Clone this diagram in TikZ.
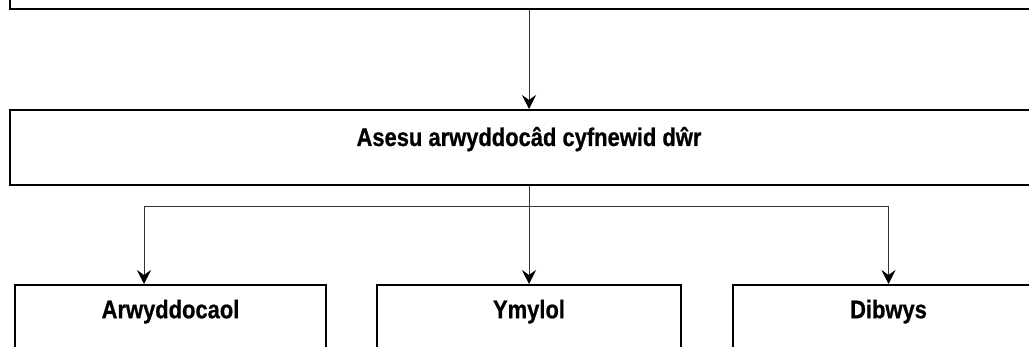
\documentclass[tikz,border=0pt]{standalone}
\usepackage{fontspec}
\setmainfont{Liberation Sans}[BoldFeatures={FakeBold=0.8}]
\usetikzlibrary{positioning, arrows.meta}
\newcommand{\narrowtxt}[1]{\scalebox{0.86}[1]{#1}}

\begin{document}
\begin{tikzpicture}[
    x=1pt, y=-1pt,
    box/.style={rectangle, draw, line width=2pt, minimum height=75pt, text height=17.5pt, text depth=20.5pt, font=\fontsize{25.5}{30}\selectfont\bfseries},
    leaf/.style={box, minimum width=311pt, text depth=26pt},
    conn/.style={-{Stealth[length=14pt, width=14pt, inset=5pt, color=black]}, line width=0.9pt, draw=black!80}
]
    \useasboundingbox (0,0) rectangle (1029,347);

    % Boxes
    \node[box, minimum width=1038pt, minimum height=60pt] (top) at (529,-21) {};
    \node[box, minimum width=1038pt, below=99pt of top] (asesu) {\narrowtxt{Asesu arwyddocâd cyfnewid dŵr}};
    \node[leaf, minimum width=304pt, below=98pt of asesu] (ymylol) {\narrowtxt{Ymylol}};
    \node[leaf, left=49pt of ymylol] (arw) {\narrowtxt{Arwyddocaol}};
    \node[leaf, right=50pt of ymylol] (dib) {\narrowtxt{Dibwys}};

    % Branch points
    \coordinate (fork) at ([yshift=-20pt]asesu.south);
    \coordinate (arwin) at ([xshift=-26.5pt]arw.north);

    % Connectors
    \draw[conn] (top) -- (asesu);
    \draw[conn] (asesu) -- (ymylol);
    \draw[conn] (fork) -| (arwin);
    \draw[conn] (fork) -| (dib.north);

\end{tikzpicture}
\end{document}
